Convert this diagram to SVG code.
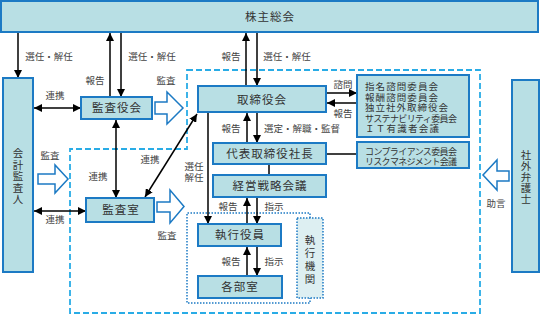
<svg xmlns="http://www.w3.org/2000/svg" width="541" height="315" viewBox="0 0 541 315">
<style>
.n{fill:#B8DFE4;stroke:#1C7AC4;stroke-width:2}
.t{font-family:"Noto Sans CJK JP",sans-serif;font-size:11.5px;fill:#333;text-anchor:middle;letter-spacing:1px}
.v{font-family:"Noto Sans CJK JP",sans-serif;font-size:10.5px;fill:#333;text-anchor:middle;writing-mode:vertical-rl}
.s{font-family:"Noto Sans CJK JP",sans-serif;font-size:9.5px;fill:#444;text-anchor:middle}
.c{font-family:"Noto Sans CJK JP",sans-serif;font-size:9.5px;fill:#333}
.l{stroke:#000;stroke-width:1.5;fill:none}
.b{fill:#fff;stroke:#1C7AC4;stroke-width:1.5}
</style>
<defs>
<marker id="a" viewBox="0 0 10 10" refX="10" refY="5" markerWidth="8" markerHeight="8" markerUnits="userSpaceOnUse" orient="auto-start-reverse">
<path d="M0,0L10,5L0,10z" fill="#000"/>
</marker>
</defs>
<g id="boundaries">
<path d="M187,70H480V313H70V149H187Z" fill="none" stroke="#29ACE6" stroke-width="1.8" stroke-dasharray="6,3"/>
<path d="M310,218V213H187V303H310V298" fill="none" stroke="#1C7AC4" stroke-width="1.5" stroke-dasharray="1.5,1.5"/>
</g>
<g id="connectors">
<line class="l" x1="18" y1="33" x2="18" y2="78" marker-end="url(#a)"/>
<line class="l" x1="110" y1="97" x2="110" y2="33" marker-end="url(#a)"/>
<line class="l" x1="121" y1="33" x2="121" y2="97" marker-end="url(#a)"/>
<line class="l" x1="34" y1="108" x2="81" y2="108" marker-start="url(#a)" marker-end="url(#a)"/>
<line class="l" x1="246" y1="86" x2="246" y2="33" marker-end="url(#a)"/>
<line class="l" x1="257" y1="33" x2="257" y2="86" marker-end="url(#a)"/>
<line class="l" x1="326" y1="93" x2="357" y2="93" marker-end="url(#a)"/>
<line class="l" x1="357" y1="103" x2="327" y2="103" marker-end="url(#a)"/>
<line class="l" x1="247" y1="143" x2="247" y2="113" marker-end="url(#a)"/>
<line class="l" x1="257" y1="113" x2="257" y2="143" marker-end="url(#a)"/>
<line class="l" x1="326" y1="154" x2="357" y2="154"/>
<line class="l" x1="269" y1="164" x2="269" y2="175"/>
<line class="l" x1="247" y1="224" x2="247" y2="198" marker-end="url(#a)"/>
<line class="l" x1="257" y1="198" x2="257" y2="224" marker-end="url(#a)"/>
<line class="l" x1="247" y1="276" x2="247" y2="247" marker-end="url(#a)"/>
<line class="l" x1="257" y1="247" x2="257" y2="276" marker-end="url(#a)"/>
<line class="l" x1="208" y1="113" x2="208" y2="224" marker-end="url(#a)"/>
<line class="l" x1="116" y1="120" x2="116" y2="198" marker-start="url(#a)" marker-end="url(#a)"/>
<line class="l" x1="145" y1="197" x2="197" y2="114" marker-start="url(#a)" marker-end="url(#a)"/>
<line class="l" x1="34" y1="211" x2="86" y2="211" marker-start="url(#a)" marker-end="url(#a)"/>
<path class="b" d="M155,102H167V92L183,108L167,124V114H155Z"/>
<path class="b" d="M38,174H55V165L68,179L55,193V184H38Z"/>
<path class="b" d="M157,202H170V190L184,206.5L170,223V212H157Z"/>
<path class="b" d="M509,171H497V160L483,175L497,190V181H509Z"/>
<text class="s" x="49" y="60">選任・解任</text>
<text class="s" x="95" y="84">報告</text>
<text class="s" x="152" y="60">選任・解任</text>
<text class="s" x="55" y="99">連携</text>
<text class="s" x="166" y="84">監査</text>
<text class="s" x="231" y="60">報告</text>
<text class="s" x="287" y="60">選任・解任</text>
<text class="s" x="343" y="88">諮問</text>
<text class="s" x="343" y="117">報告</text>
<text class="s" x="231" y="132">報告</text>
<text class="s" x="302" y="132">選定・解職・監督</text>
<text class="s" x="194" y="170">選任</text>
<text class="s" x="194" y="181">解任</text>
<text class="s" x="150" y="163">連携</text>
<text class="s" x="98" y="180">連携</text>
<text class="s" x="50" y="159">監査</text>
<text class="s" x="55" y="223">連携</text>
<text class="s" x="167" y="239">監査</text>
<text class="s" x="228" y="210">報告</text>
<text class="s" x="274" y="210">指示</text>
<text class="s" x="231" y="265">報告</text>
<text class="s" x="274" y="265">指示</text>
<text class="s" x="496" y="207">助言</text>
</g>
<g id="n1"><rect class="n" x="1" y="1" width="537" height="31"/><text class="t" x="270" y="20.5">株主総会</text></g>
<g id="n2"><rect class="n" x="3" y="78" width="30" height="194"/>
<text class="v" x="18" y="177" style="letter-spacing:1px">会計監査人</text></g>
<g id="n3"><rect class="n" x="512" y="80" width="27" height="192"/>
<text class="v" x="526" y="177" style="letter-spacing:0.5px">社外弁護士</text></g>
<g id="n4"><rect class="n" x="81" y="97" width="71" height="22"/><text class="t" x="117" y="112">監査役会</text></g>
<g id="n5"><rect class="n" x="86" y="198" width="68" height="24"/><text class="t" x="121" y="214">監査室</text></g>
<g id="n6"><rect class="n" x="198" y="86" width="128" height="26"/><text class="t" x="262" y="103.5">取締役会</text></g>
<g id="n7"><rect class="n" x="213" y="143" width="113" height="21"/><text class="t" x="270" y="157.5">代表取締役社長</text></g>
<g id="n8"><rect class="n" x="213" y="175" width="113" height="22"/><text class="t" x="270" y="190">経営戦略会議</text></g>
<g id="n9"><rect class="n" x="198" y="224" width="83" height="22"/><text class="t" x="240" y="239">執行役員</text></g>
<g id="n10"><rect class="n" x="198" y="276" width="84" height="22"/><text class="t" x="240" y="291">各部室</text></g>
<g id="n11"><rect x="297" y="218" width="26" height="80" fill="#DDEFF2" stroke="#1C7AC4" stroke-width="1.5" stroke-dasharray="1.5,1.5"/>
<text class="v" x="310" y="261" style="letter-spacing:2.5px">執行機関</text></g>
<g id="n12"><rect class="n" x="357" y="75" width="112" height="62"/>
<text class="c" x="365" y="90" textLength="73">指名諮問委員会</text>
<text class="c" x="365" y="100.5" textLength="73">報酬諮問委員会</text>
<text class="c" x="365" y="111" textLength="83">独立社外取締役会</text>
<text class="c" x="365" y="121.5" textLength="92" style="font-size:9px">サステナビリティ委員会</text>
<text class="c" x="365" y="132" textLength="74">ＩＴ有識者会議</text></g>
<g id="n13"><rect class="n" x="357" y="142" width="112" height="26"/>
<text class="c" x="365" y="155" textLength="92" style="font-size:9px">コンプライアンス委員会</text>
<text class="c" x="365" y="165" textLength="92" style="font-size:9px">リスクマネジメント会議</text></g>
</svg>
